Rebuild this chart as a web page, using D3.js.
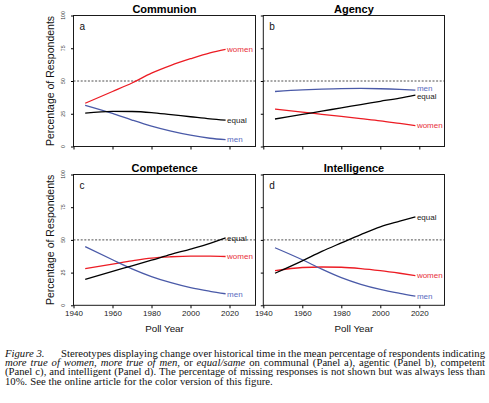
<!DOCTYPE html>
<html><head><meta charset="utf-8">
<script src="https://cdn.jsdelivr.net/npm/d3@7"></script>
<style>
html,body{margin:0;padding:0;background:#fff;}
svg{display:block;}
</style></head>
<body>
<svg id="chart" width="489" height="403"></svg>
<script>
// ---- data ----
const years = [1946, 1960, 1970, 1980, 1990, 2000, 2010, 2018];
const panelTitles = ["Communion", "Agency", "Competence", "Intelligence"];
const panelLetters = ["a", "b", "c", "d"];
const seriesNames = ["women", "men", "equal"];
const communionWomen = [33, 42, 48.5, 56, 62, 67, 71.5, 74.2];
const communionMen   = [31.5, 25.3, 20.2, 15.5, 11.7, 8.6, 6.3, 5.2];
const communionEqual = [25.5, 26.8, 26.7, 25.9, 24.3, 22.7, 21.1, 20.1];
const agencyWomen = [28.5, 26.3, 24.6, 23, 21.3, 19.6, 17.6, 16];
const agencyMen   = [42, 43.2, 43.8, 44.2, 44.3, 44.1, 43.6, 43];
const agencyEqual = [21, 24.5, 27, 29.5, 32, 34.5, 37, 39.3];
const competenceWomen = [28.1, 31.5, 34, 36.1, 37.1, 37.6, 37.6, 37.3];
const competenceMen   = [44.8, 34.8, 27.9, 22, 17.3, 13.5, 10.7, 8.8];
const competenceEqual = [19.9, 26, 30.2, 34.5, 38.9, 43, 47.4, 51.5];
const intelligenceWomen = [26.5, 28.9, 29.3, 29.1, 28.1, 26.5, 24.5, 22.7];
const intelligenceMen   = [44, 34.8, 27.6, 21.1, 16, 12.1, 9.1, 7];
const intelligenceEqual = [24.5, 34, 41.2, 47.7, 54.1, 60, 64.3, 67.6];
const xTicks = [1940, 1960, 1980, 2000, 2020];
const yTicks = [0, 25, 50, 75, 100];
const referenceLine = 50;
const xLabel = "Poll Year";
const yLabel = "Percentage of Respondents";

const panelData = [
  {women: communionWomen, men: communionMen, equal: communionEqual},
  {women: agencyWomen, men: agencyMen, equal: agencyEqual},
  {women: competenceWomen, men: competenceMen, equal: competenceEqual},
  {women: intelligenceWomen, men: intelligenceMen, equal: intelligenceEqual}
];

// ---- styles ----
const lineColor = {women: "#ec1c24", men: "#4a5aa8", equal: "#000"};
const labelColor = {women: "#e8303a", men: "#5a6cc0", equal: "#1a1a1a"};
// small label nudges (px) per panel to keep end labels apart
const labelNudge = [{}, {men: -2, equal: 1.6}, {}, {}];
const sans = "'Liberation Sans', Arial, Helvetica, sans-serif";
const serif = "'Liberation Serif', 'Times New Roman', Times, serif";

const svg = d3.select("#chart");
const colX = [[73.5, 255.5], [263.3, 444.5]];
const rowY = [[15.5, 146.5], [174.5, 305.3]];
const pxPerYear = 1.95;

panelData.forEach((pd, i) => {
  const col = i % 2, row = Math.floor(i / 2);
  const [x0, x1] = colX[col], [y0, y1] = rowY[row];
  const x = d3.scaleLinear().domain([1940, 1940 + (x1 - x0) / pxPerYear]).range([x0, x1]);
  const y = d3.scaleLinear().domain([0, 100]).range([y1, y0]);
  const g = svg.append("g");

  // dashed reference line
  g.append("line")
    .attr("x1", x0).attr("x2", x1)
    .attr("y1", y(referenceLine)).attr("y2", y(referenceLine))
    .attr("stroke", "#222").attr("stroke-width", 0.8)
    .attr("stroke-dasharray", "2,1.6");

  // series
  const line = d3.line().x((d, k) => x(years[k])).y(d => y(d)).curve(d3.curveMonotoneX);
  seriesNames.forEach(s => {
    g.append("path").datum(pd[s])
      .attr("d", line)
      .attr("fill", "none")
      .attr("stroke", lineColor[s])
      .attr("stroke-width", 1.3);
    const last = pd[s][pd[s].length - 1];
    g.append("text")
      .attr("x", x(years[years.length - 1]) + 1.5)
      .attr("y", y(last) + (labelNudge[i][s] || 0))
      .attr("dy", "0.35em")
      .attr("font-family", sans).attr("font-size", 8)
      .attr("fill", labelColor[s])
      .text(s);
  });

  // box
  g.append("rect")
    .attr("x", x0).attr("y", y0)
    .attr("width", x1 - x0).attr("height", y1 - y0)
    .attr("fill", "none").attr("stroke", "#1a1a1a").attr("stroke-width", 1);

  // axes
  const xAxis = d3.axisBottom(x).tickValues(xTicks).tickSize(3).tickPadding(2)
    .tickFormat(row === 1 ? d3.format("d") : () => "");
  const xg = g.append("g").attr("transform", `translate(0,${y1})`).call(xAxis);
  xg.select(".domain").remove();
  xg.selectAll("text").attr("font-family", sans).attr("font-size", 8).attr("fill", "#222");

  const yAxis = d3.axisLeft(y).tickValues(yTicks).tickSize(2.5).tickFormat(() => "");
  const yg = g.append("g").attr("transform", `translate(${x0},0)`).call(yAxis);
  yg.select(".domain").remove();

  if (col === 0) {
    g.selectAll(".ylab").data(yTicks).enter().append("text")
      .attr("transform", d => `translate(63.3,${y(d)}) rotate(-90)`)
      .attr("text-anchor", "middle").attr("dy", "0.35em")
      .attr("font-family", sans).attr("font-size", 5.2).attr("fill", "#333")
      .text(d => d);
    g.append("text")
      .attr("transform", `translate(50,${(y0 + y1) / 2}) rotate(-90)`)
      .attr("text-anchor", "middle").attr("dy", "0.35em")
      .attr("font-family", sans).attr("font-size", 10.5).attr("fill", "#111")
      .text(yLabel);
  }

  // title
  g.append("text")
    .attr("x", (x0 + x1) / 2).attr("y", y0 - 6.5)
    .attr("text-anchor", "middle")
    .attr("dy", "0.35em")
    .attr("font-family", sans).attr("font-size", 11).attr("font-weight", "bold")
    .attr("fill", "#000")
    .text(panelTitles[i]);

  // panel letter
  g.append("text")
    .attr("x", x0 + 6).attr("y", y0 + 11)
    .attr("dy", "0.35em")
    .attr("font-family", sans).attr("font-size", 10).attr("fill", "#111")
    .text(panelLetters[i]);

  if (row === 1) {
    g.append("text")
      .attr("x", (x0 + x1) / 2).attr("y", 329)
      .attr("text-anchor", "middle").attr("dy", "0.35em")
      .attr("font-family", sans).attr("font-size", 9.8).attr("fill", "#111")
      .text(xLabel);
  }
});

// ---- caption ----
const captionLines = [
  [["Stereotypes displaying change over historical time in the mean percentage of respondents indicating", false]],
  [["more true of women,", true], ["more true of men,", true], ["or", false], ["equal/same", true],
   ["on communal (Panel a), agentic (Panel b), competent", false]],
  [["(Panel c), and intelligent (Panel d). The percentage of missing responses is not shown but was always less than", false]],
  [["10%. See the online article for the color version of this figure.", false]]
];
const capFont = 9.4;
const sx = 1.14; // horizontal stretch of the caption text
const capLeft = 5, capRight = 485;
const baselines = [357, 366.2, 375.4, 384.6];
const cap = svg.append("g").attr("transform", `scale(${sx},1)`)
  .attr("font-family", serif).attr("font-size", capFont).attr("fill", "#111");

cap.append("text").attr("x", capLeft / sx).attr("y", baselines[0])
  .attr("font-style", "italic").text("Figure 3.");

captionLines.forEach((segs, li) => {
  const words = [];
  segs.forEach(([t, it]) => t.split(" ").forEach(w => words.push({w, it})));
  const startX = (li === 0 ? 61 : capLeft) / sx;
  const endX = capRight / sx;
  const nodes = words.map(o => cap.append("text")
    .attr("y", baselines[li])
    .attr("font-style", o.it ? "italic" : "normal")
    .text(o.w));
  const widths = nodes.map(n => n.node().getComputedTextLength());
  const total = d3.sum(widths);
  const justify = li < 3;
  const space = justify ? (endX - startX - total) / (words.length - 1) : capFont * 0.27;
  let cx = startX;
  nodes.forEach((n, k) => { n.attr("x", cx); cx += widths[k] + space; });
});
</script>
</body></html>
